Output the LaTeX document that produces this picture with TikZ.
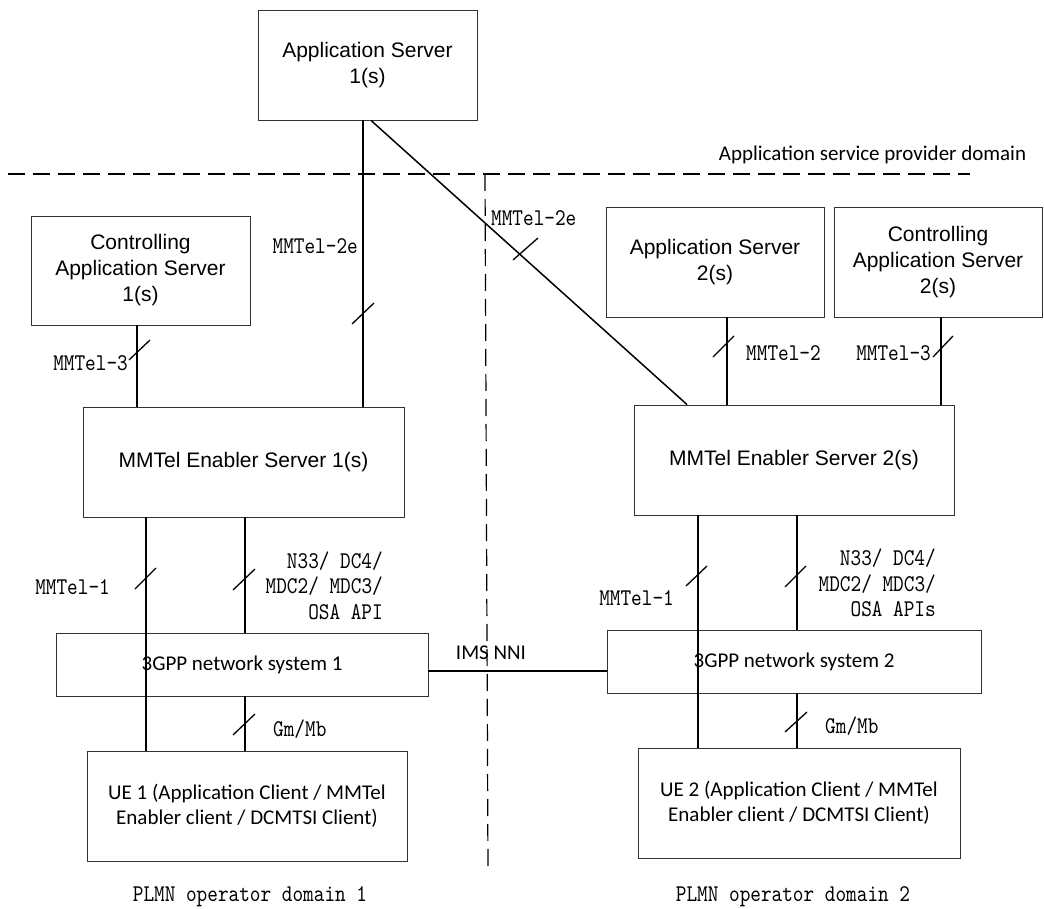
\documentclass[tikz,border=0pt]{standalone}
\usepackage{fontspec}
\setmainfont{Liberation Sans}
\newfontfamily\calfont{Carlito}
\newfontfamily\lblfont[FakeStretch=0.845]{lmmono10-regular.otf}
\usetikzlibrary{calc}
\begin{document}
\begin{tikzpicture}[x=1pt,y=-1pt,
  box/.style={draw=black!80, line width=0.9pt, inner sep=0pt, align=center, font=\fontsize{21}{26}\selectfont},
  calbox/.style={box, font=\calfont\fontsize{21}{25}\selectfont},
  conn/.style={line width=1.5pt},
  tickmark/.style={line width=1.3pt},
  lbl/.style={inner sep=0pt, font=\lblfont\fontsize{24}{25.5}\selectfont},
  domline/.style={line width=1.2pt, dash pattern=on 17pt off 8pt},
  caltext/.style={inner sep=0pt, font=\calfont\fontsize{21}{25}\selectfont}]

\useasboundingbox (0,0) rectangle (1044,909);

% domain borders
\draw[domline] (8,174) -- (970,174);
\draw[domline] (485,174) -- (488,872);
\node[caltext] (aspd) at (872.5,155) {Application service provider domain};

% boxes
\node[box, minimum width=219pt, minimum height=110pt] (AS1) at (367.5,65) {Application Server\\1(s)};
\node[box, minimum width=219pt, minimum height=109pt] (CAS1) at (140.5,270.5) {Controlling\\Application Server\\1(s)};
\node[box, minimum width=321pt, minimum height=110pt] (MES1) at (243.5,462) {MMTel Enabler Server 1(s)};
\node[box, minimum width=218pt, minimum height=110pt] (AS2) at (715,262) {Application Server\\2(s)};
\node[box, minimum width=208pt, minimum height=110pt] (CAS2) at (938,262) {Controlling\\Application Server\\2(s)};
\node[box, minimum width=320pt, minimum height=110pt] (MES2) at (794,460) {MMTel Enabler Server 2(s)};
\node[calbox, minimum width=372pt, minimum height=63pt] (N3G1) at (242,664.5) {3GPP network system 1};
\node[calbox, minimum width=374pt, minimum height=63pt] (N3G2) at (794,661.5) {3GPP network system 2};
\node[calbox, minimum width=320pt, minimum height=110pt] (UE1) at (247,806) {UE 1 (Application Client / MMTel\\Enabler client / DCMTSI Client)};
\node[calbox, minimum width=322pt, minimum height=110pt] (UE2) at (799,803) {UE 2 (Application Client / MMTel\\Enabler client / DCMTSI Client)};

% connectors
\draw[conn] ([xshift=-4.5pt]AS1.south) -- ([xshift=119.5pt]MES1.north);
\draw[conn] ([xshift=3.5pt]AS1.south) -- ([xshift=-107pt]MES2.north);
\draw[conn] ([xshift=-3.5pt]CAS1.south) -- ([xshift=-106.5pt]MES1.north);
\draw[conn] ([xshift=12pt]AS2.south) -- ([xshift=-67pt]MES2.north);
\draw[conn] ([xshift=3pt]CAS2.south) -- ([xshift=147pt]MES2.north);
\draw[conn] ([xshift=-97.5pt]MES1.south) -- ([xshift=-101pt]UE1.north);
\draw[conn] ([xshift=1.5pt]MES1.south) -- ([xshift=3pt]N3G1.north);
\draw[conn] ([xshift=3pt]N3G1.south) -- ([xshift=-2pt]UE1.north);
\draw[conn] ([xshift=-96pt]MES2.south) -- ([xshift=-101pt]UE2.north);
\draw[conn] ([xshift=3pt]MES2.south) -- ([xshift=3pt]N3G2.north);
\draw[conn] ([xshift=3pt]N3G2.south) -- ([xshift=-2pt]UE2.north);
\draw[conn] ([yshift=-6.5pt]N3G1.east) -- ([yshift=-6.5pt]N3G1.east -| N3G2.west);

% tick marks
\draw[tickmark] (129,360) -- (150,340);
\draw[tickmark] (352,324) -- (374,303);
\draw[tickmark] (513,260) -- (538,238);
\draw[tickmark] (713,357) -- (734,336);
\draw[tickmark] (933,357) -- (953,336);
\draw[tickmark] (135,589) -- (156,568);
\draw[tickmark] (233,590) -- (255,569);
\draw[tickmark] (233,735) -- (255,714);
\draw[tickmark] (686,586) -- (707,566);
\draw[tickmark] (785,587) -- (806,566);
\draw[tickmark] (785,732) -- (807,712);

% labels
\node[lbl, anchor=east] (l1) at (128,363) {MMTel-3};
\node[lbl, anchor=east] (l2) at (358,246) {MMTel-2e};
\node[lbl, anchor=west] (l3) at (491,218) {MMTel-2e};
\node[lbl, anchor=west] (l4) at (746,353) {MMTel-2};
\node[lbl, anchor=east] (l5) at (931,353) {MMTel-3};
\node[lbl, anchor=east] (l6) at (110,587) {MMTel-1};
\node[lbl, anchor=east, align=right] (l7) at (383,585.5) {N33/ DC4/\\MDC2/ MDC3/\\OSA API};
\node[lbl, anchor=west] (l8) at (273,729) {Gm/Mb};
\node[lbl, anchor=east] (l9) at (674,598) {MMTel-1};
\node[lbl, anchor=east, align=right] (l10) at (936,583) {N33/ DC4/\\MDC2/ MDC3/\\OSA APIs};
\node[lbl, anchor=west] (l11) at (825,726) {Gm/Mb};
\node[caltext] (nni) at (491,653) {IMS NNI};
\node[lbl] (d1) at (250,897) {PLMN operator domain 1};
\node[lbl] (d2) at (793,897) {PLMN operator domain 2};
\end{tikzpicture}
\end{document}
